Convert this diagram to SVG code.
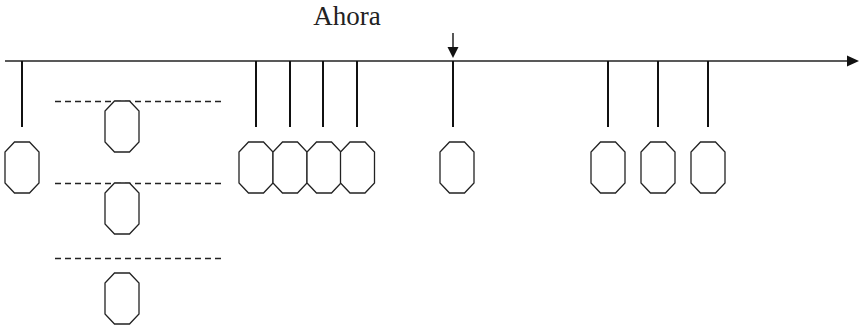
<svg xmlns="http://www.w3.org/2000/svg" width="859" height="327" viewBox="0 0 859 327">
<style>
.oct{fill:#fff;stroke:#222;stroke-width:1.3}
.tick{stroke:#111;stroke-width:2}
.axis{stroke:#222;stroke-width:1.5}
.dash{stroke:#222;stroke-width:1.3;stroke-dasharray:6 4}
.lbl{font-family:"Liberation Serif","DejaVu Serif",serif;font-size:27px;fill:#222}
</style>
<defs>
<polygon id="o" points="9.5,0 24.5,0 34,10 34,41 24.5,51 9.5,51 0,41 0,10"/>
</defs>
<rect width="859" height="327" fill="#fff"/>
<g id="connectors">
<line class="axis" x1="5" y1="61" x2="850" y2="61"/>
<polygon points="847,55.5 859,61 847,66.5" fill="#111"/>
<line class="tick" x1="22" y1="61" x2="22" y2="127"/>
<line class="tick" x1="256" y1="61" x2="256" y2="127"/>
<line class="tick" x1="290" y1="61" x2="290" y2="127"/>
<line class="tick" x1="323" y1="61" x2="323" y2="127"/>
<line class="tick" x1="357" y1="61" x2="357" y2="127"/>
<line class="tick" x1="453" y1="61" x2="453" y2="127"/>
<line class="tick" x1="608" y1="61" x2="608" y2="127"/>
<line class="tick" x1="658" y1="61" x2="658" y2="127"/>
<line class="tick" x1="708" y1="61" x2="708" y2="127"/>
<line x1="453" y1="33" x2="453" y2="49" stroke="#111" stroke-width="1.4"/>
<polygon points="447.5,47 458.5,47 453,58" fill="#111"/>
<line class="dash" x1="55" y1="101.5" x2="223" y2="101.5"/>
<line class="dash" x1="55" y1="183.5" x2="223" y2="183.5"/>
<line class="dash" x1="55" y1="258.5" x2="223" y2="258.5"/>
</g>
<g id="label-ahora"><text class="lbl" x="347" y="25" text-anchor="middle">Ahora</text></g>
<g id="n1"><use href="#o" class="oct" x="5" y="142"/></g>
<g id="n2"><use href="#o" class="oct" x="105" y="101"/></g>
<g id="n3"><use href="#o" class="oct" x="105" y="183"/></g>
<g id="n4"><use href="#o" class="oct" x="105" y="273"/></g>
<g id="n5"><use href="#o" class="oct" x="239" y="142"/></g>
<g id="n6"><use href="#o" class="oct" x="273" y="142"/></g>
<g id="n7"><use href="#o" class="oct" x="307" y="142"/></g>
<g id="n8"><use href="#o" class="oct" x="340.5" y="142"/></g>
<g id="n9"><use href="#o" class="oct" x="440" y="142"/></g>
<g id="n10"><use href="#o" class="oct" x="591" y="142"/></g>
<g id="n11"><use href="#o" class="oct" x="641" y="142"/></g>
<g id="n12"><use href="#o" class="oct" x="691" y="142"/></g>
</svg>
